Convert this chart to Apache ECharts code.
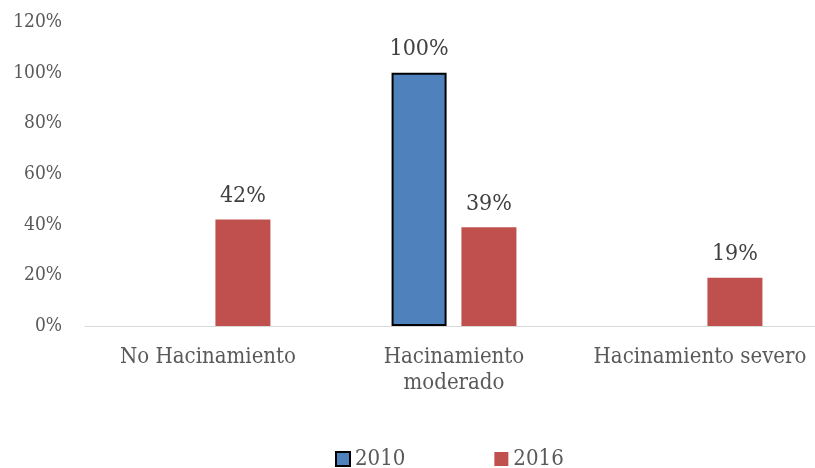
<!DOCTYPE html>
<html><head><meta charset="utf-8">
<script src="https://cdn.jsdelivr.net/npm/echarts@6/dist/echarts.min.js"></script>
<style>html,body{margin:0;padding:0;background:#fff}#c{width:815px;height:468px}</style>
</head><body><div id="c"></div>
<script>
const categories = ['No Hacinamiento', 'Hacinamiento moderado', 'Hacinamiento severo'];
const values2010 = [null, 100, null];
const values2016 = [42, 39, 19];
const yTicks = [0, 20, 40, 60, 80, 100, 120];
const FONT = '"DejaVu Serif Condensed", "DejaVu Serif", serif';
const chart = echarts.init(document.getElementById('c'));
const lbl = {
  show: true, position: 'top', distance: 12, fontFamily: FONT, fontSize: 23, color: '#404040',
  formatter: p => p.value ? p.value + '%' : ''
};
chart.setOption({
  animation: false,
  grid: { left: 85, width: 738, top: 22, bottom: 142, outerBoundsMode: 'none', containLabel: false },
  legend: {
    top: 448, left: 335, padding: 0, itemWidth: 14, itemHeight: 14, itemGap: 89, icon: 'rect',
    textStyle: { fontFamily: FONT, fontSize: 22, color: '#595959' },
    data: [
      { name: '2010', itemStyle: { color: '#4f81bd', borderColor: '#000', borderWidth: 2 } },
      { name: '2016', itemStyle: { color: '#c0504d', borderWidth: 0 } }
    ]
  },
  xAxis: {
    type: 'category', data: categories,
    axisLine: { lineStyle: { color: '#d9d9d9', width: 1 } },
    axisTick: { show: false },
    axisLabel: {
      interval: 0, hideOverlap: false,
      fontFamily: FONT, fontSize: 22, color: '#595959', margin: 18, lineHeight: 26,
      formatter: v => v === 'Hacinamiento moderado' ? 'Hacinamiento\nmoderado' : v
    }
  },
  yAxis: {
    type: 'value', min: yTicks[0], max: yTicks[yTicks.length - 1], interval: 20,
    splitLine: { show: false },
    axisLine: { show: false }, axisTick: { show: false },
    axisLabel: { fontFamily: FONT, fontSize: 19, color: '#595959', margin: 23, formatter: v => v + '%' }
  },
  series: [
    { name: '2010', type: 'bar', data: values2010, barWidth: 55, barGap: '27%',
      itemStyle: { color: '#4f81bd', borderColor: '#000', borderWidth: 2 }, label: lbl },
    { name: '2016', type: 'bar', data: values2016, barWidth: 55,
      itemStyle: { color: '#c0504d' }, label: lbl }
  ]
});
</script></body></html>
